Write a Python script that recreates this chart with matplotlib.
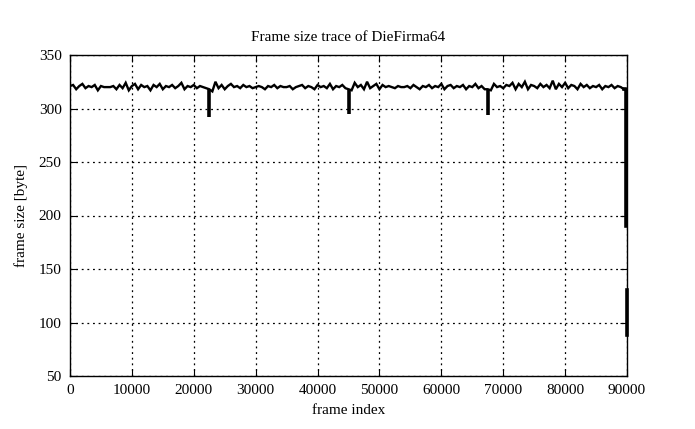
import numpy as np
import matplotlib
matplotlib.use("Agg")
import matplotlib.pyplot as plt

plt.rcParams['font.family'] = ['Liberation Serif', 'DejaVu Serif']

# frame index sampled every 500 frames (0 .. 89500)
frame_index = np.arange(0, 89501, 500)
frame_size = [
    321, 322, 318, 321, 323, 319, 321, 320, 322, 317,
    321, 320, 320, 320, 321, 318, 322, 319, 324, 317,
    321, 323, 318, 322, 320, 321, 317, 322, 320, 323,
    318, 321, 320, 322, 319, 321, 324, 318, 321, 320,
    322, 319, 321, 320, 319,
    318,
    316, 325, 319, 322, 318, 321, 323, 320, 321, 319,
    322, 320, 321, 319, 320, 321, 320, 318, 321, 320,
    322, 319, 321, 320, 320, 321, 318, 320, 321, 322,
    319, 321, 320, 318, 322, 320, 321, 319, 323, 318,
    321, 320, 322, 319,
    318,
    317, 324, 320, 322, 318, 325, 319, 321, 323, 318,
    322, 320, 321, 320, 319, 321, 320, 320, 321, 319,
    322, 320, 318, 321, 320, 322, 319, 321, 320, 323,
    318, 321, 322, 319, 321, 320, 322, 318, 321, 320,
    323, 319, 321, 318,
    318,
    317, 323, 320, 321, 319, 322, 321, 324, 318, 323,
    320, 325, 318, 322, 321, 319, 323, 320, 322, 319,
    326, 318, 323, 320, 324, 319, 322, 321, 318, 323,
    320, 322, 319, 321, 320, 322, 318, 321, 320, 322,
    319, 321, 320, 318,
]

# narrow dips (periodic small frames)
dip_index = [22500, 45000, 67500]
dip_top = [318, 318, 318]
dip_min = [292, 295, 294]

# final frames: steep drop at the end of the trace
tail_index = [89500, 89850, 89850, np.nan, 90000, 90000]
tail_size = [318, 318, 190, np.nan, 130, 88]

x_ticks = [0, 10000, 20000, 30000, 40000, 50000, 60000, 70000, 80000, 90000]
y_ticks = [50, 100, 150, 200, 250, 300, 350]

fig = plt.figure(figsize=(6.95, 4.29), dpi=100)
ax = fig.add_axes([70/695, 1-376/429, (627-70)/695, (376-55)/429])

ax.plot(frame_index, frame_size, color='black', linewidth=1.7, solid_joinstyle='miter')
ax.vlines(dip_index, dip_min, dip_top, color='black', linewidth=2.6)
ax.plot(tail_index, tail_size, color='black', linewidth=2.6, clip_on=False)

ax.set_xlim(0, 90000)
ax.set_ylim(50, 350)
ax.set_xticks(x_ticks)
ax.set_yticks(y_ticks)
ax.set_xticklabels([str(v) for v in x_ticks])
ax.set_yticklabels([str(v) for v in y_ticks])

ax.grid(True, color='black', linestyle=(0, (1.5, 3)), linewidth=0.9)
ax.tick_params(direction='in', top=True, right=True, length=5, width=0.8,
               labelsize=11, pad=6)
for s in ax.spines.values():
    s.set_linewidth(1.0)

ax.set_title('Frame size trace of DieFirma64', fontsize=11, pad=10)
ax.set_xlabel('frame index', fontsize=11, labelpad=5)
ax.set_ylabel('frame size [byte]', fontsize=11, labelpad=8)

fig.savefig('out.png', dpi=100)
